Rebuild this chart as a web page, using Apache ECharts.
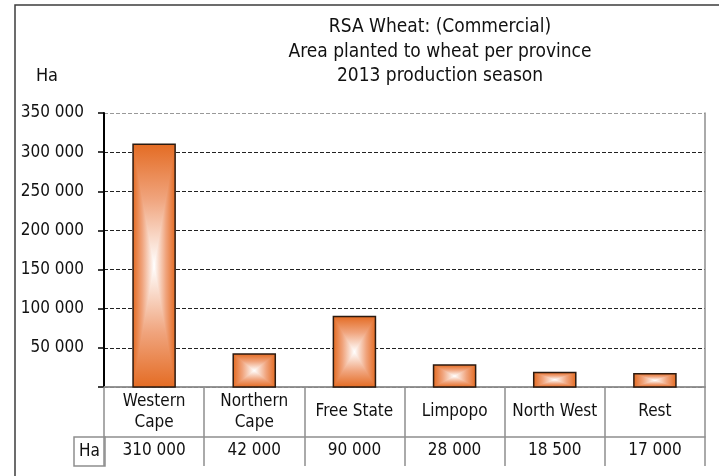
<!DOCTYPE html>
<html>
<head>
<meta charset="utf-8">
<script src="https://cdn.jsdelivr.net/npm/echarts@6/dist/echarts.min.js"></script>
<style>
  html, body { margin: 0; padding: 0; background: #fff; }
  #chart { width: 719px; height: 476px; }
</style>
</head>
<body>
<div id="chart"></div>
<script>
const provinces = ['Western\nCape', 'Northern\nCape', 'Free State', 'Limpopo', 'North West', 'Rest'];
const hectares = [310000, 42000, 90000, 28000, 18500, 17000];
const yTicks = [0, 50000, 100000, 150000, 200000, 250000, 300000, 350000];

const FONT = '"DejaVu Sans Condensed", "DejaVu Sans", sans-serif';
const ORANGE = '#e46c24';
const TABLE_GREY = '#8e8e8e';

function spaced(v) {
  return String(v).replace(/\B(?=(\d{3})+(?!\d))/g, ' ');
}

// rectangle "from centre" gradient like the office fill: sides fade horizontally, ends vertically
function renderBar(params, api) {
  const top = api.coord([api.value(0), api.value(1)]);
  const base = api.coord([api.value(0), 0]);
  const w = api.size([1, 0])[0] * 0.42;
  const x0 = top[0] - w / 2, x1 = top[0] + w / 2;
  const y0 = top[1], y1 = base[1];
  const cx = top[0], cy = (y0 + y1) / 2;
  const stops = [
    { offset: 0, color: ORANGE },
    { offset: 0.45, color: '#f0a47d' },
    { offset: 1, color: '#ffffff' }
  ];
  const rev = stops.map(s => ({ offset: 1 - s.offset, color: s.color })).reverse();
  return {
    type: 'group',
    children: [
      {
        type: 'rect',
        shape: { x: x0, y: y0, width: w, height: y1 - y0 },
        style: {
          fill: new echarts.graphic.LinearGradient(0, 0, 1, 0, [
            { offset: 0, color: ORANGE },
            { offset: 0.22, color: '#f0a47d' },
            { offset: 0.5, color: '#ffffff' },
            { offset: 0.78, color: '#f0a47d' },
            { offset: 1, color: ORANGE }
          ])
        }
      },
      {
        type: 'polygon',
        shape: { points: [[x0, y0], [x1, y0], [cx, cy]] },
        style: { fill: new echarts.graphic.LinearGradient(0, 0, 0, 1, stops) }
      },
      {
        type: 'polygon',
        shape: { points: [[x0, y1], [x1, y1], [cx, cy]] },
        style: { fill: new echarts.graphic.LinearGradient(0, 0, 0, 1, rev) }
      },
      {
        type: 'rect',
        shape: { x: x0, y: y0, width: w, height: y1 - y0 },
        style: { fill: null, stroke: '#2b1a10', lineWidth: 1.5 }
      }
    ]
  };
}

const chart = echarts.init(document.getElementById('chart'));

chart.setOption({
  backgroundColor: '#fff',
  animation: false,
  textStyle: { fontFamily: FONT },
  title: {
    text: 'RSA Wheat: (Commercial)\nArea planted to wheat per province\n2013 production season',
    left: 440,
    top: 15,
    padding: 0,
    textAlign: 'center',
    textStyle: { fontFamily: FONT, fontSize: 19, fontWeight: 'normal', color: '#111', lineHeight: 24.5 }
  },
  grid: { left: 104, right: 14, top: 113, bottom: 89 },
  xAxis: [
    {
      type: 'category',
      data: provinces,
      position: 'bottom',
      axisLine: { lineStyle: { color: TABLE_GREY, width: 1.5 } },
      axisTick: { show: true, length: 79, interval: 0, lineStyle: { color: TABLE_GREY, width: 1.5 } },
      axisLabel: {
        interval: 0, margin: 25, verticalAlign: 'middle', lineHeight: 21,
        fontFamily: FONT, fontSize: 17, color: '#111'
      }
    },
    {
      type: 'category',
      data: hectares.map(spaced),
      position: 'bottom',
      offset: 79,
      axisLine: { lineStyle: { color: TABLE_GREY, width: 1.5 } },
      axisTick: { show: false },
      axisLabel: {
        interval: 0, inside: true, margin: 15, verticalAlign: 'middle',
        fontFamily: FONT, fontSize: 17, color: '#111'
      }
    },
    {
      type: 'category',
      data: provinces,
      position: 'bottom',
      offset: 50,
      axisLine: { lineStyle: { color: TABLE_GREY, width: 1.5 } },
      axisTick: { show: false },
      axisLabel: { show: false }
    }
  ],
  yAxis: [
    {
      type: 'value',
      min: yTicks[0],
      max: yTicks[yTicks.length - 1],
      interval: yTicks[1] - yTicks[0],
      name: 'Ha',
      nameLocation: 'end',
      nameGap: 28,
      nameTextStyle: { fontFamily: FONT, fontSize: 18, color: '#111', align: 'right', padding: [0, 46, 0, 0] },
      axisLine: { show: true, lineStyle: { color: '#000', width: 2 } },
      axisTick: { show: true, length: 6, lineStyle: { color: '#000', width: 1.5 } },
      axisLabel: {
        margin: 20, fontFamily: FONT, fontSize: 17, color: '#111',
        formatter: v => (v === 0 ? '' : spaced(v))
      },
      splitLine: {
        show: true,
        lineStyle: {
          color: ['#222', '#222', '#222', '#222', '#222', '#222', '#222', '#999'],
          type: [4, 2],
          width: 1.2
        }
      }
    },
    {
      type: 'value',
      position: 'right',
      min: yTicks[0],
      max: yTicks[yTicks.length - 1],
      interval: yTicks[1] - yTicks[0],
      axisLine: { show: true, lineStyle: { color: TABLE_GREY, width: 1.5 } },
      axisTick: { show: false },
      axisLabel: { show: false },
      splitLine: { show: false }
    }
  ],
  graphic: [
    {
      type: 'rect',
      shape: { x: 15, y: 5, width: 720, height: 490 },
      style: { fill: null, stroke: '#3c3c3c', lineWidth: 1.5 },
      silent: true
    },
    {
      type: 'rect',
      shape: { x: 74, y: 437, width: 31, height: 29 },
      style: { fill: null, stroke: TABLE_GREY, lineWidth: 1.5 },
      silent: true
    },
    {
      type: 'text',
      x: 89.5, y: 451.5,
      style: { text: 'Ha', fontFamily: FONT, fontSize: 17, fill: '#111', align: 'center', verticalAlign: 'middle' },
      silent: true
    }
  ],
  series: [
    {
      type: 'custom',
      renderItem: renderBar,
      encode: { x: 0, y: 1 },
      data: hectares.map((v, i) => [i, v]),
      z: 3
    }
  ]
});
</script>
</body>
</html>
